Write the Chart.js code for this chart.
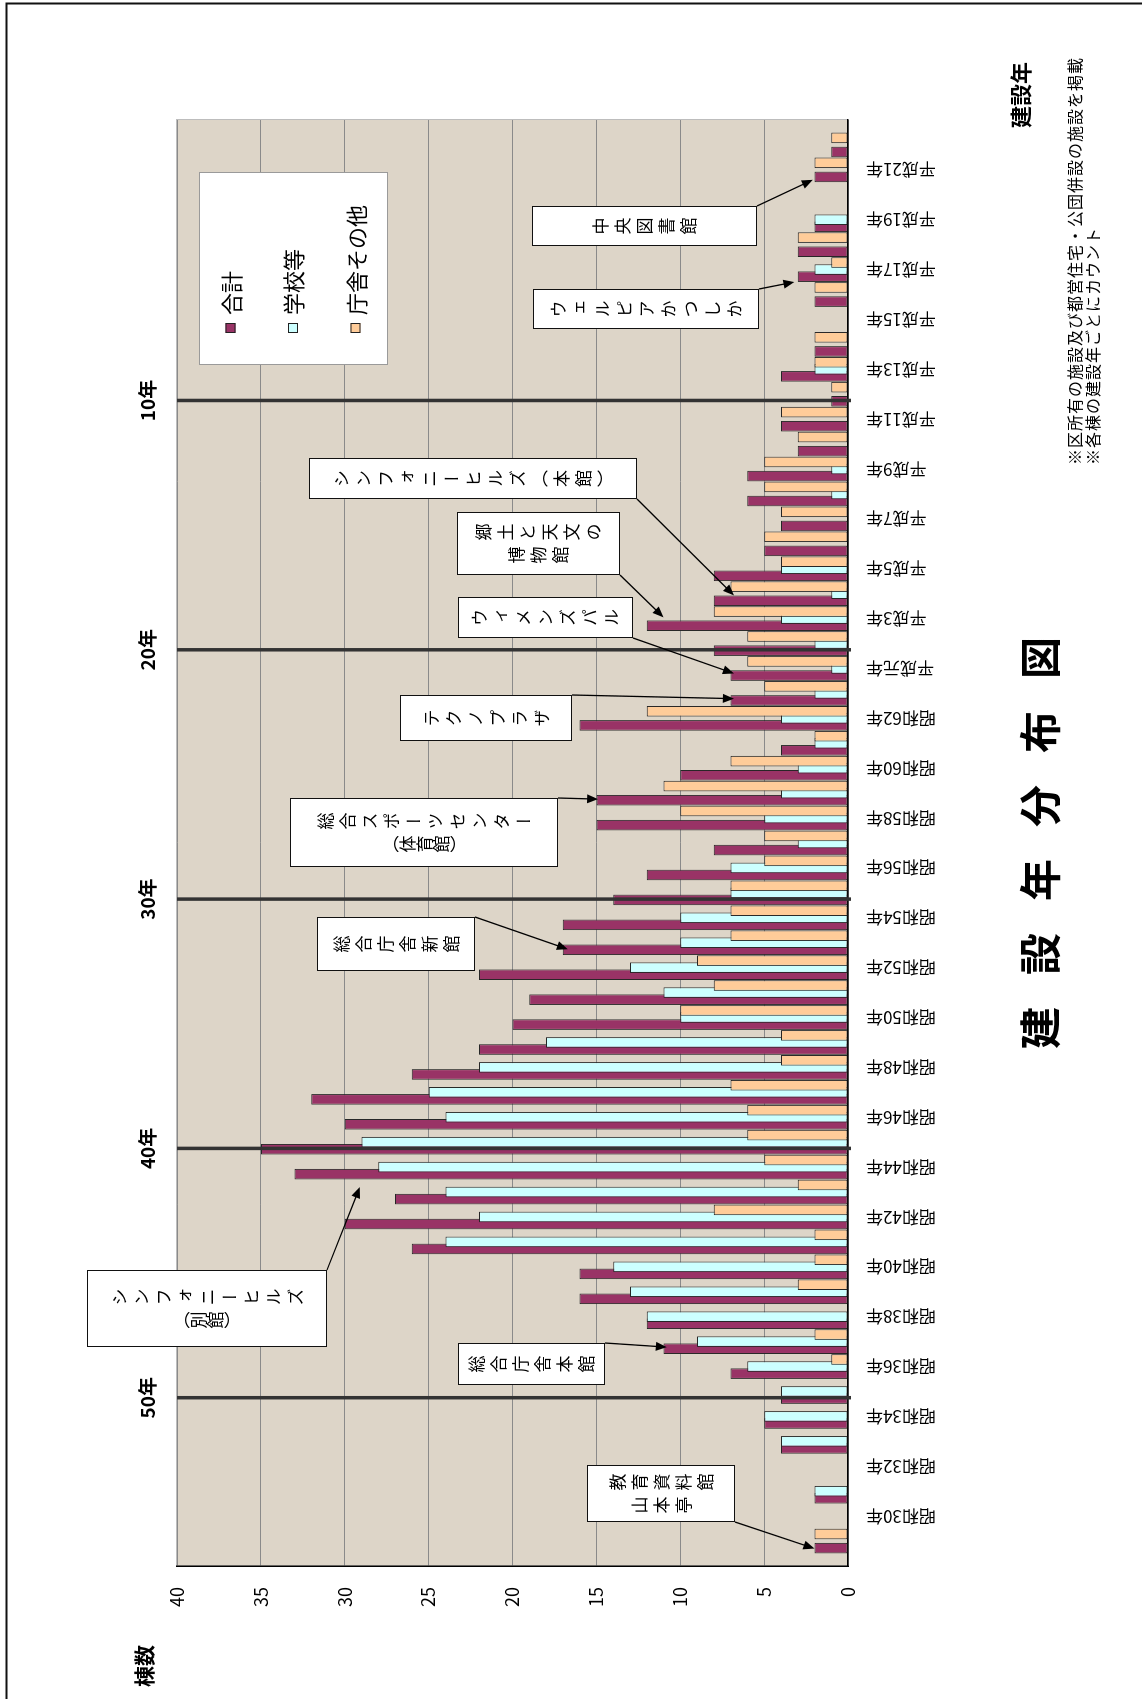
<!DOCTYPE html>
<html lang="ja">
<head>
<meta charset="utf-8">
<title>建設年分布図</title>
<script src="https://cdn.jsdelivr.net/npm/chart.js@4.4.1/dist/chart.umd.min.js"></script>
<style>
  html, body { margin: 0; padding: 0; background: #fff; }
  body { width: 1142px; height: 1699px; overflow: hidden; position: relative; }
  /* the chart is drawn in landscape and the sheet is turned a quarter turn */
  #sheet { position: absolute; left: 0; top: 0; width: 1699px; height: 1142px;
           transform-origin: 0 0; transform: translateY(1699px) rotate(-90deg); }
  #grafico { position: absolute; left: 0; top: 0; }
  .callout { position: absolute; box-sizing: border-box; border: 1.5px solid #111; background: #fff;
             display: flex; align-items: center; justify-content: center;
             font-family: "Noto Sans CJK JP", sans-serif; font-size: 17px; color: #000; }
  .callout .txt { writing-mode: vertical-rl; height: 100%; line-height: 23px; }
  .callout .txt div { text-align: center; }
</style>
</head>
<body>
<div id="sheet">
  <canvas id="grafico" width="1699" height="1142"></canvas>
</div>
<script>
const FONT = '"Noto Sans CJK JP", "Noto Sans", sans-serif';

const years = [
  '昭和29年','昭和30年','昭和31年','昭和32年','昭和33年','昭和34年','昭和35年','昭和36年','昭和37年','昭和38年',
  '昭和39年','昭和40年','昭和41年','昭和42年','昭和43年','昭和44年','昭和45年','昭和46年','昭和47年','昭和48年',
  '昭和49年','昭和50年','昭和51年','昭和52年','昭和53年','昭和54年','昭和55年','昭和56年','昭和57年','昭和58年',
  '昭和59年','昭和60年','昭和61年','昭和62年','昭和63年','平成元年','平成2年','平成3年','平成4年','平成5年',
  '平成6年','平成7年','平成8年','平成9年','平成10年','平成11年','平成12年','平成13年','平成14年','平成15年',
  '平成16年','平成17年','平成18年','平成19年','平成20年','平成21年','平成22年'
];
const totalCounts = [2,0,2,0,4,5,4,7,11,12,16,16,26,30,27,33,35,30,32,26,22,20,19,22,17,17,14,12,8,15,15,10,4,16,7,7,8,12,8,8,5,4,6,6,3,4,1,4,2,0,2,3,3,2,0,2,1];
const schoolCounts = [0,0,2,0,4,5,4,6,9,12,13,14,24,22,24,28,29,24,25,22,18,10,11,13,10,10,7,7,3,5,4,3,2,4,2,1,2,4,1,4,0,0,1,1,0,0,0,2,0,0,0,2,0,2,0,0,0];
const officeCounts = [2,0,0,0,0,0,0,1,2,0,3,2,2,8,3,5,6,6,7,4,4,10,8,9,7,7,7,5,5,10,11,7,2,12,5,6,6,8,7,4,5,4,5,5,3,4,1,2,2,0,2,1,3,0,0,2,1];
const seriesNames = ['合計', '学校等', '庁舎その他'];
const valueTicks = [0, 5, 10, 15, 20, 25, 30, 35, 40];

const ageLabels = ['50年', '40年', '30年', '20年', '10年'];
const ageYears = ['昭和35年', '昭和45年', '昭和55年', '平成2年', '平成12年'];

// callout boxes: box = [x, y, w, h] on the landscape sheet, arrow to a point in data space
const callouts = [
  { lines: ['教育資料館', '山本亭'], box: [177, 587, 57, 148], from: 'bl', year: '昭和29年', shift: -0.3, value: 2 },
  { lines: ['総合庁舎本館'], box: [314, 458, 42, 147], from: 'br', year: '昭和37年', shift: -0.22, value: 10.8 },
  { lines: ['シンフォニーヒルズ', '（別館）'], box: [352, 87, 77, 240], from: 'br', year: '昭和43年', shift: 0.2, value: 29.1 },
  { lines: ['総合庁舎新館'], box: [728, 317, 54, 158], from: 'br', year: '昭和53年', shift: -0.26, value: 16.7 },
  { lines: ['総合スポーツセンター', '（体育館）'], box: [832, 290, 69, 268], from: 'br', year: '昭和59年', shift: -0.24, value: 14.9 },
  { lines: ['テクノプラザ'], box: [958, 400, 46, 172], from: 'br', year: '昭和63年', shift: -0.21, value: 6.8 },
  { lines: ['ウィメンズパル'], box: [1061, 458, 41, 175], from: 'bl', year: '平成元年', shift: -0.2, value: 6.8 },
  { lines: ['郷土と天文の', '博物館'], box: [1124, 457, 63, 163], from: 'bl', year: '平成3年', shift: 0.05, value: 11 },
  { lines: ['シンフォニーヒルズ（本館）'], box: [1200, 309, 41, 328], from: 'bl', year: '平成4年', shift: -0.07, value: 6.8 },
  { lines: ['ウェルピアかつしか'], box: [1370, 533, 40, 226], from: 'br', year: '平成17年', shift: -0.5, value: 3.2 },
  { lines: ['中央図書館'], box: [1453, 532, 40, 225], from: 'br', year: '平成21年', shift: -0.4, value: 2.1 }
];

const withPad = (arr, v) => [v, ...arr, v];

function catPixel(chart, year, shift) {
  return chart.scales.x.getPixelForValue(years.indexOf(year) + 1 + shift);
}

function arrow(ctx, x0, y0, x1, y1) {
  const ang = Math.atan2(y1 - y0, x1 - x0);
  const len = 11, half = 4.5;
  ctx.beginPath();
  ctx.moveTo(x0, y0);
  ctx.lineTo(x1 - Math.cos(ang) * len * 0.8, y1 - Math.sin(ang) * len * 0.8);
  ctx.stroke();
  ctx.beginPath();
  ctx.moveTo(x1, y1);
  ctx.lineTo(x1 - len * Math.cos(ang) + half * Math.sin(ang), y1 - len * Math.sin(ang) - half * Math.cos(ang));
  ctx.lineTo(x1 - len * Math.cos(ang) - half * Math.sin(ang), y1 - len * Math.sin(ang) + half * Math.cos(ang));
  ctx.closePath();
  ctx.fill();
}

const decor = {
  id: 'decor',
  beforeDraw(chart) {
    const { ctx, chartArea: a } = chart;
    ctx.save();
    ctx.fillStyle = '#fff';
    ctx.fillRect(0, 0, chart.width, chart.height);
    ctx.fillStyle = '#ddd5c8';
    ctx.fillRect(a.left, a.top, a.right - a.left, a.bottom - a.top);
    ctx.strokeStyle = '#bdbdbd';
    ctx.lineWidth = 1;
    ctx.strokeRect(a.left, a.top - 0.5, a.right - a.left + 0.5, a.bottom - a.top);
    ctx.restore();
  },
  // first series underneath, later series drawn over it
  beforeDatasetsDraw(chart) {
    chart.data.datasets.forEach((ds, i) => {
      const meta = chart.getDatasetMeta(i);
      if (!meta.hidden) meta.controller.draw();
    });
    return false;
  },
  afterDraw(chart) {
    const { ctx, chartArea: a } = chart;
    const y = chart.scales.y;
    ctx.save();

    // age lines
    ageYears.forEach((yr, k) => {
      const px = catPixel(chart, yr, -0.25);
      ctx.strokeStyle = '#333';
      ctx.lineWidth = 3.5;
      ctx.beginPath();
      ctx.moveTo(px, a.top);
      ctx.lineTo(px, a.bottom + 3);
      ctx.stroke();
      ctx.fillStyle = '#000';
      ctx.font = 'bold 19px ' + FONT;
      ctx.textAlign = 'center';
      ctx.textBaseline = 'middle';
      ctx.fillText(ageLabels[k], px, 148);
    });

    // callout arrows
    ctx.strokeStyle = '#000';
    ctx.fillStyle = '#000';
    ctx.lineWidth = 1.3;
    callouts.forEach(c => {
      const [bx, by, bw, bh] = c.box;
      const x0 = c.from === 'br' ? bx + bw : bx;
      const y0 = by + bh;
      arrow(ctx, x0, y0, catPixel(chart, c.year, c.shift), y.getPixelForValue(c.value));
    });

    // legend
    const lg = { x: 1334, y: 199, w: 192, h: 188 };
    ctx.fillStyle = '#fff';
    ctx.fillRect(lg.x, lg.y, lg.w, lg.h);
    ctx.strokeStyle = '#9a9a9a';
    ctx.lineWidth = 1;
    ctx.strokeRect(lg.x + 0.5, lg.y + 0.5, lg.w, lg.h);
    ctx.font = '22px ' + FONT;
    ctx.textAlign = 'left';
    ctx.textBaseline = 'middle';
    chart.data.datasets.forEach((ds, i) => {
      const cy = lg.y + 31.5 + i * 62.5;
      ctx.fillStyle = ds.backgroundColor;
      ctx.fillRect(1366, cy - 5, 10, 10);
      ctx.strokeStyle = '#222';
      ctx.strokeRect(1366.5, cy - 4.5, 9, 9);
      ctx.fillStyle = '#000';
      ctx.fillText(ds.label, 1384, cy + 1);
    });

    // title
    const title = '建設年分布図';
    const mid = (a.left + a.right) / 2;
    ctx.font = 'bold 42px ' + FONT;
    ctx.textAlign = 'center';
    for (let k = 0; k < title.length; k++) {
      ctx.fillText(title[k], mid + (k - 2.5) * 74, 1040);
    }

    // notes
    ctx.font = '16px ' + FONT;
    ctx.textAlign = 'left';
    ctx.letterSpacing = '1px';
    ctx.fillText('※区所有の施設及び都営住宅・公団併設の施設を掲載', 1234, 1075);
    ctx.fillText('※各棟の建設年ごとにカウント', 1234, 1093);
    ctx.letterSpacing = '0px';

    // axis titles
    ctx.font = 'bold 21px ' + FONT;
    ctx.textAlign = 'center';
    ctx.fillText('棟数', 33, 144);
    ctx.font = 'bold 22px ' + FONT;
    ctx.textAlign = 'left';
    ctx.fillText('建設年', 1571, 1021);

    // page frame
    ctx.strokeStyle = '#111';
    ctx.lineWidth = 2;
    ctx.beginPath();
    ctx.moveTo(0, 6.5);
    ctx.lineTo(1695.5, 6.5);
    ctx.lineTo(1695.5, 1142);
    ctx.stroke();

    ctx.restore();
  }
};

const grafico = new Chart(document.getElementById('grafico').getContext('2d'), {
  type: 'bar',
  data: {
    labels: withPad(years, ''),
    datasets: [
      { label: seriesNames[0], data: withPad(totalCounts, null), backgroundColor: '#993366' },
      { label: seriesNames[1], data: withPad(schoolCounts, null), backgroundColor: '#ccffff' },
      { label: seriesNames[2], data: withPad(officeCounts, null), backgroundColor: '#ffcc99' }
    ]
  },
  options: {
    responsive: false,
    animation: false,
    devicePixelRatio: 1,
    events: [],
    layout: { padding: { top: 177, right: 120, bottom: 0, left: 0 } },
    datasets: {
      bar: { categoryPercentage: 0.85, barPercentage: 1.5, borderWidth: 1, borderColor: '#262626', borderSkipped: false }
    },
    plugins: { legend: { display: false }, tooltip: { enabled: false } },
    scales: {
      x: {
        type: 'category',
        offset: false,
        grid: { display: false, drawTicks: false },
        border: { display: true, color: '#000', width: 1.5 },
        ticks: {
          autoSkip: false,
          minRotation: 90,
          maxRotation: 90,
          padding: 18,
          color: '#000',
          font: { family: FONT, size: 17 },
          callback: (val, idx) => {
            const i = idx - 1;
            return (i >= 0 && i < years.length && i % 2 === 1) ? years[i] : '';
          }
        },
        afterFit: s => { s.height = 294; }
      },
      y: {
        min: valueTicks[0],
        max: valueTicks[valueTicks.length - 1],
        grid: { color: '#8a8a8a', lineWidth: 1, drawTicks: false },
        border: { display: true, color: '#000', width: 1.5 },
        ticks: { padding: 21, color: '#000', font: { family: FONT, size: 18 } },
        afterBuildTicks: s => { s.ticks = valueTicks.map(v => ({ value: v })); },
        afterFit: s => { s.width = 133; }
      }
    }
  },
  plugins: [decor]
});

// callout boxes with vertical text
const sheet = document.getElementById('sheet');
callouts.forEach(c => {
  const [x, y, w, h] = c.box;
  const el = document.createElement('div');
  el.className = 'callout';
  el.style.cssText = `left:${x}px;top:${y}px;width:${w}px;height:${h}px`;
  const txt = document.createElement('div');
  txt.className = 'txt';
  c.lines.forEach(line => {
    const d = document.createElement('div');
    d.textContent = line;
    if (!line.startsWith('（')) {
      d.style.letterSpacing = '5px';
      d.style.paddingTop = '5px';
    }
    txt.appendChild(d);
  });
  el.appendChild(txt);
  sheet.appendChild(el);
});
</script>
</body>
</html>
